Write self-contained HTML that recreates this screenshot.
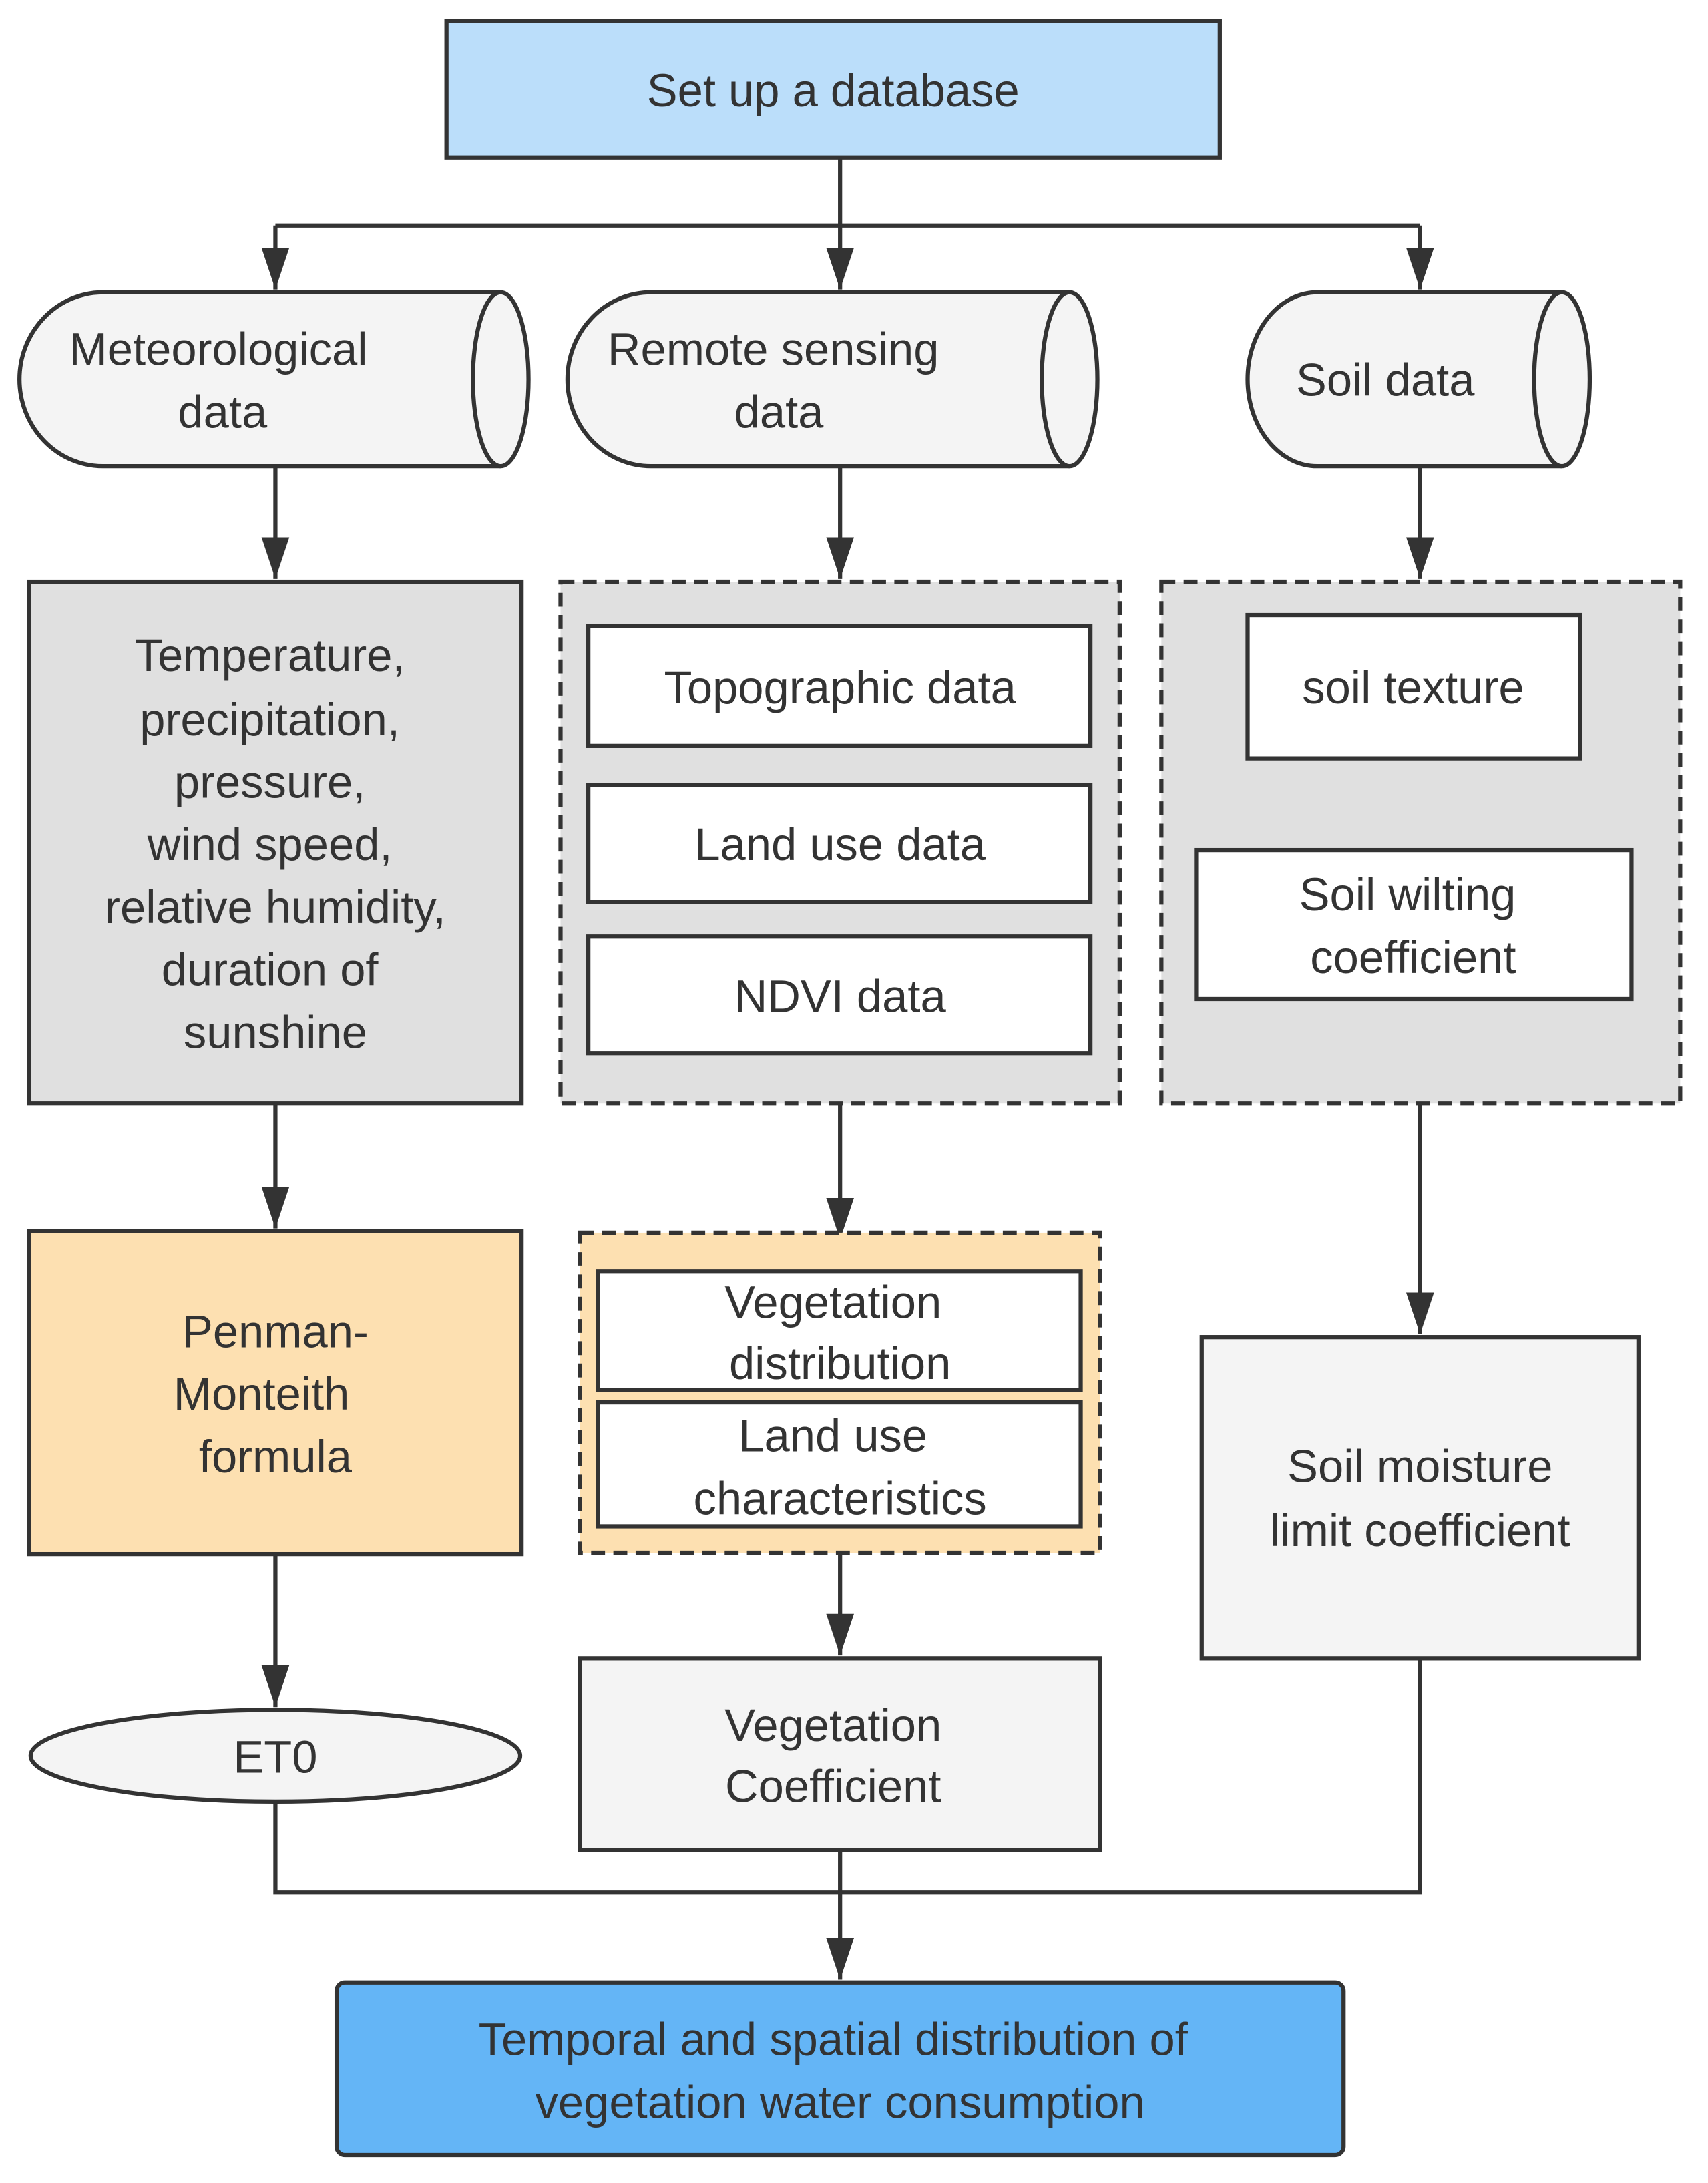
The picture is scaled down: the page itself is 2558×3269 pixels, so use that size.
<!DOCTYPE html>
<html><head><meta charset="utf-8"><style>html,body{margin:0;padding:0;background:#fff}svg{display:block}</style></head><body>
<svg width="2558" height="3269" viewBox="0 0 1228 1569" xmlns="http://www.w3.org/2000/svg" font-family="Liberation Sans, DejaVu Sans, sans-serif" font-size="33" fill="#333">
<defs><marker id="a" markerWidth="10" markerHeight="10" refX="9" refY="5" orient="auto" markerUnits="userSpaceOnUse" viewBox="0 0 10 10"><path d="M0,0 L10,5 L0,10 z" fill="#333"/></marker>
<marker id="b" viewBox="0 0 20 30" refX="10" refY="30" markerWidth="20" markerHeight="30" markerUnits="userSpaceOnUse" orient="0"><path d="M0,0 L20,0 L10,30 z" fill="#333"/></marker></defs>
<g stroke="#333" stroke-width="3" fill="none">
<path d="M604,113 V208" marker-end="url(#b)"/>
<path d="M198,162 H1021"/>
<path d="M198,162 V208" marker-end="url(#b)"/>
<path d="M1021,162 V208" marker-end="url(#b)"/>
<path d="M198,335 V416" marker-end="url(#b)"/>
<path d="M604,335 V416" marker-end="url(#b)"/>
<path d="M1021,335 V416" marker-end="url(#b)"/>
<path d="M198,793 V883" marker-end="url(#b)"/>
<path d="M604,793 V891" marker-end="url(#b)"/>
<path d="M1021,793 V959" marker-end="url(#b)"/>
<path d="M198,1117 V1227" marker-end="url(#b)"/>
<path d="M604,1116 V1190" marker-end="url(#b)"/>
<path d="M198,1295 V1360 H1021 V1192"/>
<path d="M604,1330 V1423" marker-end="url(#b)"/>
</g>
<g stroke="#333" stroke-width="3">
<rect x="321" y="15" width="556" height="98" fill="#bbdefa"/>
<path d="M360,210 H74 A60,62.5 0 0 0 74,335 H360" fill="#f4f4f4"/><ellipse cx="360" cy="272.5" rx="20" ry="62.5" fill="#f4f4f4"/>
<path d="M769,210 H468 A60,62.5 0 0 0 468,335 H769" fill="#f4f4f4"/><ellipse cx="769" cy="272.5" rx="20" ry="62.5" fill="#f4f4f4"/>
<path d="M1123,210 H947 A50,62.5 0 0 0 947,335 H1123" fill="#f4f4f4"/><ellipse cx="1123" cy="272.5" rx="20" ry="62.5" fill="#f4f4f4"/>
<rect x="21" y="418" width="354" height="375" fill="#e0e0e0"/>
<rect x="403" y="418" width="402" height="375" fill="#e0e0e0" stroke-dasharray="10,6"/>
<rect x="423" y="450" width="361" height="86" fill="#fff"/>
<rect x="423" y="564" width="361" height="84" fill="#fff"/>
<rect x="423" y="673" width="361" height="84" fill="#fff"/>
<rect x="835" y="418" width="373" height="375" fill="#e0e0e0" stroke-dasharray="10,6"/>
<rect x="897" y="442" width="239" height="103" fill="#fff"/>
<rect x="860" y="611" width="313" height="107" fill="#fff"/>
<rect x="21" y="885" width="354" height="232" fill="#fde0b1"/>
<rect x="417" y="886" width="374" height="230" fill="#fde0b1" stroke-dasharray="10,6"/>
<rect x="430" y="914" width="347" height="85" fill="#fff"/>
<rect x="430" y="1008" width="347" height="89" fill="#fff"/>
<rect x="864" y="961" width="314" height="231" fill="#f4f4f4"/>
<ellipse cx="198" cy="1262" rx="176" ry="33" fill="#f4f4f4"/>
<rect x="417" y="1192" width="374" height="138" fill="#f4f4f4"/>
<rect x="242" y="1425" width="724" height="124" rx="6" fill="#64b5f6"/>
</g>
<g text-anchor="middle" dominant-baseline="central">
<text x="599" y="65">Set up a database</text>
<text x="157" y="251">Meteorological</text><text x="160" y="296">data</text>
<text x="556" y="251">Remote sensing</text><text x="560" y="296">data</text>
<text x="996" y="273">Soil data</text>
<text x="194" y="471">Temperature,</text><text x="194" y="517">precipitation,</text><text x="194" y="562">pressure,</text><text x="194" y="607">wind speed,</text><text x="198" y="652">relative humidity,</text><text x="194" y="697">duration of</text><text x="198" y="742">sunshine</text>
<text x="604" y="494">Topographic data</text>
<text x="604" y="607">Land use data</text>
<text x="604" y="716">NDVI data</text>
<text x="1016" y="494">soil texture</text>
<text x="1012" y="643">Soil wilting</text><text x="1016" y="688">coefficient</text>
<text x="198" y="957">Penman-</text><text x="188" y="1002">Monteith</text><text x="198" y="1047">formula</text>
<text x="599" y="936">Vegetation</text><text x="604" y="980">distribution</text>
<text x="599" y="1032">Land use</text><text x="604" y="1077">characteristics</text>
<text x="1021" y="1054">Soil moisture</text><text x="1021" y="1100">limit coefficient</text>
<text x="198" y="1263">ET0</text>
<text x="599" y="1240">Vegetation</text><text x="599" y="1284">Coefficient</text>
<text x="599" y="1466">Temporal and spatial distribution of</text><text x="604" y="1511">vegetation water consumption</text>
</g>
</svg>
</body></html>
